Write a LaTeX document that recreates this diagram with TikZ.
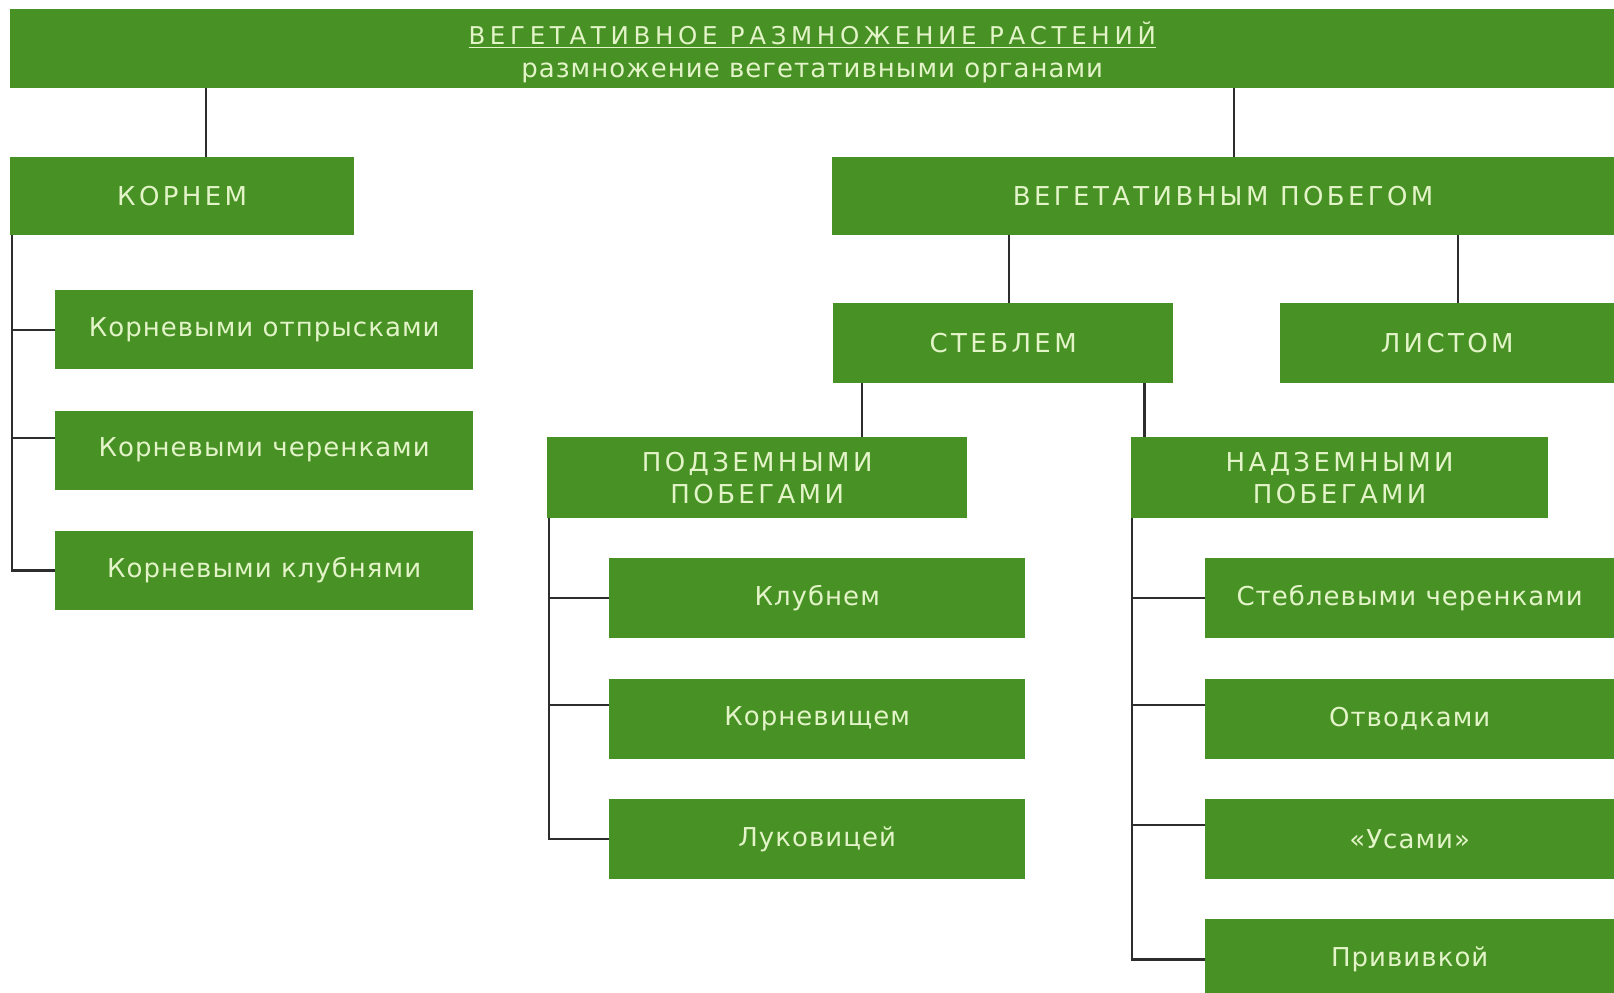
\documentclass[tikz,border=0pt]{standalone}
\usepackage{fontspec}
\usetikzlibrary{positioning}
\setmainfont{DejaVu Sans}
\newfontfamily\capfont{DejaVu Sans}[LetterSpace=13]
\newfontfamily\ttlfont{DejaVu Sans}[LetterSpace=19]
\newfontfamily\lowfont{DejaVu Sans}[LetterSpace=4]
\definecolor{vgreen}{RGB}{72,145,36}
\definecolor{vpale}{RGB}{226,244,200}
\definecolor{vline}{RGB}{45,45,45}

\begin{document}
\begin{tikzpicture}[x=1pt, y=-1pt,
  box/.style={rectangle, fill=vgreen, text=vpale, anchor=north west, inner sep=0pt, align=center},
  capbox/.style={box, font=\capfont\fontsize{26}{32}\selectfont},
  lowbox/.style={box, font=\lowfont\fontsize{26}{32}\selectfont},
  link/.style={draw=vline, line width=2.2pt}]
\clip (0,0) rectangle (1614,993);
\fill[white] (0,0) rectangle (1614,993);
\node[box, minimum width=1604, minimum height=79, font=\lowfont\fontsize{26}{33}\selectfont] (ban) at (10,9)
  {\ttlfont\fontsize{24.5}{33}\selectfont\rule{0pt}{31pt}\underline{ВЕГЕТАТИВНОЕ РАЗМНОЖЕНИЕ РАСТЕНИЙ}\\
   размножение вегетативными органами};
\node[capbox, minimum width=344, minimum height=78] (kor) at (10,157) {КОРНЕМ};
\node[capbox, minimum width=782, minimum height=78] (vp) at (832,157) {ВЕГЕТАТИВНЫМ ПОБЕГОМ};
\node[lowbox, minimum width=418, minimum height=79] (kr1) at (55,290) {Корневыми отпрысками};
\node[lowbox, minimum width=418, minimum height=79, below=41pt of kr1] (kr2) {Корневыми черенками};
\node[lowbox, minimum width=418, minimum height=79, below=41pt of kr2] (kr3) {Корневыми клубнями};
\node[capbox, minimum width=340, minimum height=80] (st) at (833,303) {СТЕБЛЕМ};
\node[capbox, minimum width=334, minimum height=80] (li) at (1280,303) {ЛИСТОМ};
\node[capbox, minimum width=420, minimum height=81] (pod) at (547,437) {ПОДЗЕМНЫМИ\\ПОБЕГАМИ};
\node[capbox, minimum width=417, minimum height=81] (nad) at (1131,437) {НАДЗЕМНЫМИ\\ПОБЕГАМИ};
\node[lowbox, minimum width=416, minimum height=80] (cl1) at (609,558) {Клубнем};
\node[lowbox, minimum width=416, minimum height=80, below=40pt of cl1] (cl2) {Корневищем};
\node[lowbox, minimum width=416, minimum height=80, below=40pt of cl2] (cl3) {Луковицей};
\node[lowbox, minimum width=409, minimum height=80] (rt1) at (1205,558) {Стеблевыми черенками};
\node[lowbox, minimum width=409, minimum height=80, below=40pt of rt1] (rt2) {Отводками};
\node[lowbox, minimum width=409, minimum height=80, below=40pt of rt2] (rt3) {«Усами»};
\node[lowbox, minimum width=409, minimum height=80, below=40pt of rt3] (rt4) {Прививкой};
\draw[link] ([xshift=24pt]kor.north) -- ([xshift=24pt]kor.north |- ban.south);
\draw[link] ([xshift=11pt]vp.north) -- ([xshift=11pt]vp.north |- ban.south);
\draw[link] ([xshift=-214pt]vp.south) -- ([xshift=-214pt]vp.south |- st.north);
\draw[link] ([xshift=235pt]vp.south) -- ([xshift=235pt]vp.south |- li.north);
\draw[link] ([xshift=29pt]st.south west) -- ([xshift=29pt]st.south west |- pod.north);
\draw[link] ([xshift=-29pt]st.south east) -- ([xshift=-29pt]st.south east |- nad.north);
\coordinate (kt) at ([xshift=2pt]kor.south west);
\coordinate (pt) at ([xshift=2pt]pod.south west);
\coordinate (nt) at ([xshift=1pt]nad.south west);
\draw[link] (kt) |- (kr3.west);
\draw[link] (kr1.west) -| (kt);
\draw[link] ([yshift=12pt]kr2.west) -| (kt);
\draw[link] (pt) |- (cl3.west);
\draw[link] (cl1.west) -| (pt);
\draw[link] ([yshift=14pt]cl2.west) -| (pt);
\draw[link] (nt) |- (rt4.west);
\draw[link] (rt1.west) -| (nt);
\draw[link] ([yshift=14pt]rt2.west) -| (nt);
\draw[link] ([yshift=14pt]rt3.west) -| (nt);
\end{tikzpicture}
\end{document}
